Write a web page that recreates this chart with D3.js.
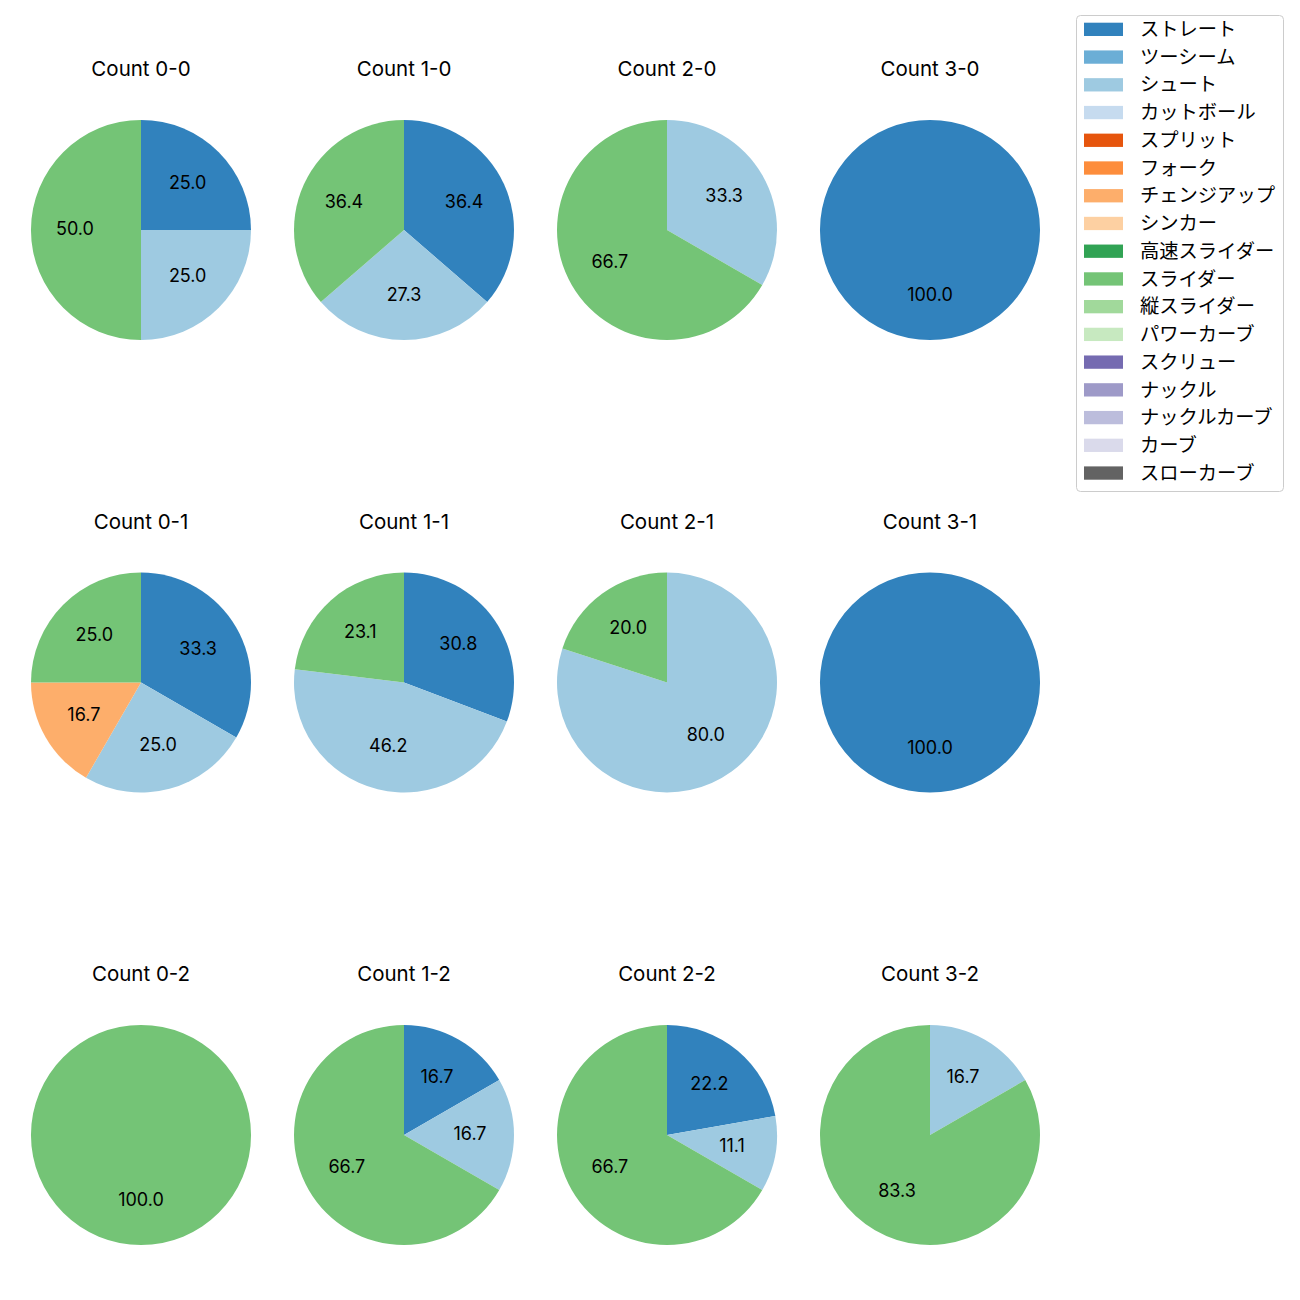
<!DOCTYPE html>
<html>
<head>
<meta charset="utf-8">
<script src="https://cdn.jsdelivr.net/npm/d3@7"></script>
<style>
  html, body { margin: 0; padding: 0; background: #fff; }
  svg text { font-family: "Noto Sans CJK JP", "Noto Sans", sans-serif; fill: #000; }
  svg text.latin { font-family: Inter, "Noto Sans CJK JP", sans-serif; }
</style>
</head>
<body>
<svg id="chart" width="1300" height="1300"></svg>
<script>
// Pitch types (legend order) and their colours (tab20c)
const pitchTypes = ["ストレート","ツーシーム","シュート","カットボール","スプリット","フォーク","チェンジアップ","シンカー","高速スライダー","スライダー","縦スライダー","パワーカーブ","スクリュー","ナックル","ナックルカーブ","カーブ","スローカーブ"];
const pitchColors = ["#3182bd","#6baed6","#9ecae1","#c6dbef","#e6550d","#fd8d3c","#fdae6b","#fdd0a2","#31a354","#74c476","#a1d99b","#c7e9c0","#756bb1","#9e9ac8","#bcbddc","#dadaeb","#636363"];

// Panels: ball-strike counts, laid out row by row (strikes = row, balls = column)
const countTitles = ["Count 0-0","Count 1-0","Count 2-0","Count 3-0",
                     "Count 0-1","Count 1-1","Count 2-1","Count 3-1",
                     "Count 0-2","Count 1-2","Count 2-2","Count 3-2"];
// pitch counts per panel, [pitchType, count] in legend order
const count00 = [["ストレート",1],["シュート",1],["スライダー",2]];
const count10 = [["ストレート",4],["シュート",3],["スライダー",4]];
const count20 = [["シュート",1],["スライダー",2]];
const count30 = [["ストレート",1]];
const count01 = [["ストレート",4],["シュート",3],["チェンジアップ",2],["スライダー",3]];
const count11 = [["ストレート",4],["シュート",6],["スライダー",3]];
const count21 = [["シュート",4],["スライダー",1]];
const count31 = [["ストレート",1]];
const count02 = [["スライダー",1]];
const count12 = [["ストレート",1],["シュート",1],["スライダー",4]];
const count22 = [["ストレート",2],["シュート",1],["スライダー",6]];
const count32 = [["シュート",1],["スライダー",5]];
const panelData = [count00,count10,count20,count30,count01,count11,count21,count31,count02,count12,count22,count32];

const svg = d3.select("#chart");
const color = d3.scaleOrdinal().domain(pitchTypes).range(pitchColors);

const colX = d3.scalePoint().domain([0,1,2,3]).range([141, 930]);
const rowY = d3.scalePoint().domain([0,1,2]).range([230, 1135]);
const R = 110;

const pie = d3.pie().sort(null).value(d => d[1])
  .startAngle(0).endAngle(2 * Math.PI);
const arc = d3.arc().innerRadius(0).outerRadius(R);
const labelArc = d3.arc().innerRadius(R * 0.6).outerRadius(R * 0.6);

panelData.forEach((data, i) => {
  const cx = colX(i % 4), cy = rowY(Math.floor(i / 4));
  const g = svg.append("g").attr("transform", `translate(${cx},${cy})`);
  const total = d3.sum(data, d => d[1]);
  const arcs = pie(data);
  g.selectAll("path.slice").data(arcs).join("path")
    .attr("class", "slice")
    .attr("d", arc)
    .attr("fill", d => color(d.data[0]));
  g.selectAll("text.pct").data(arcs).join("text")
    .attr("class", "pct latin")
    .attr("x", d => labelArc.centroid(d)[0])
    .attr("y", d => labelArc.centroid(d)[1] + 5.2)
    .attr("text-anchor", "middle")
    .attr("font-size", "18px")
    .text(d => (100 * d.data[1] / total).toFixed(1));
  svg.append("text")
    .attr("class", "latin")
    .attr("x", cx)
    .attr("y", cy - 154)
    .attr("text-anchor", "middle")
    .attr("font-size", "20.5px")
    .text(countTitles[i]);
});

// Legend
const legX = 1076, legY = 15, legW = 207, legH = 476;
const leg = svg.append("g");
leg.append("rect")
  .attr("x", legX + 0.5).attr("y", legY + 0.5)
  .attr("width", legW).attr("height", legH)
  .attr("rx", 4).attr("ry", 4)
  .attr("fill", "#fff").attr("fill-opacity", 0.8)
  .attr("stroke", "#cccccc").attr("stroke-width", 1);
const legRow = d3.scalePoint().domain(pitchTypes).range([29.3, 473]);
const items = leg.selectAll("g.item").data(pitchTypes).join("g").attr("class", "item");
items.append("rect")
  .attr("x", 1084).attr("y", d => legRow(d) - 6.6)
  .attr("width", 39).attr("height", 13.3)
  .attr("fill", d => color(d));
items.append("text")
  .attr("x", 1140).attr("y", d => legRow(d) + 6.7)
  .attr("font-size", "19.3px")
  .text(d => d);
</script>
</body>
</html>
